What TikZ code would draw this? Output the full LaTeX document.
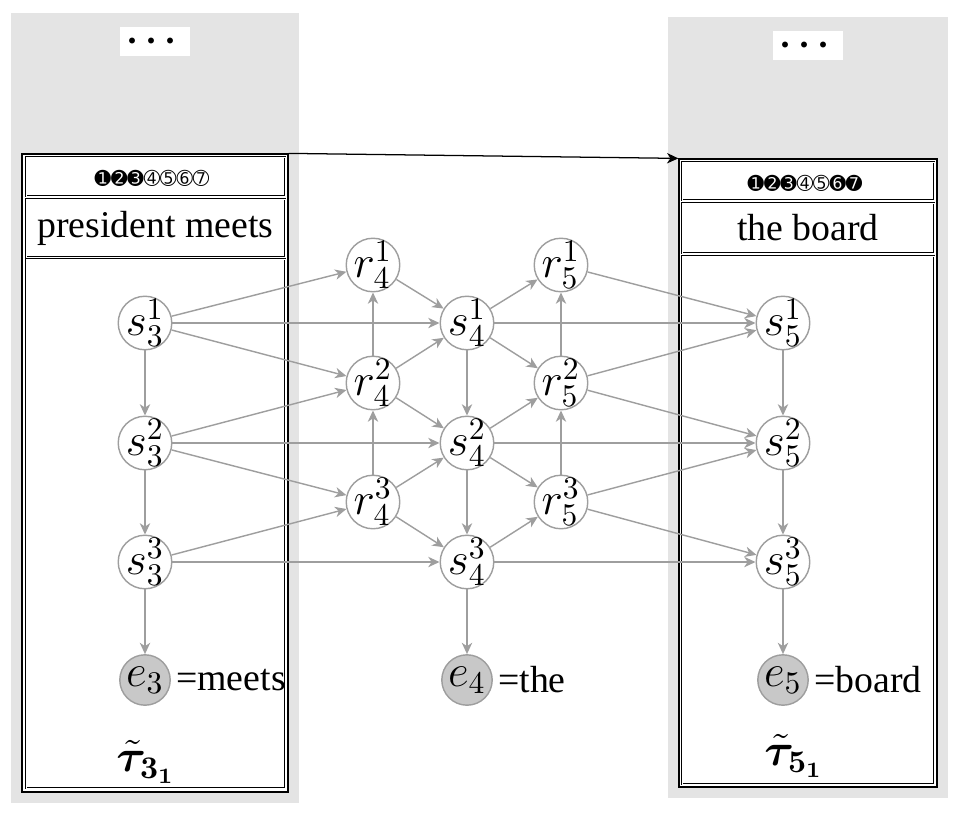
\documentclass[tikz,border=0pt]{standalone}
\usepackage{amsmath,bm}
\usepackage{fontspec}
\setmainfont{Liberation Serif}
\newfontfamily\dingfont{DejaVu Sans}
\usetikzlibrary{arrows.meta}
\definecolor{edgegray}{RGB}{158,158,158}
\definecolor{efill}{RGB}{200,200,200}
\definecolor{panelgray}{RGB}{228,228,228}
\newcommand\pxu{0.3175pt}
\begin{document}
\begin{tikzpicture}[x=0.3175pt,y=-0.3175pt,
  every node/.style={font=\fontsize{12}{14}\selectfont},
  st/.style={circle,draw=edgegray,line width=0.45pt,fill=white,inner sep=-1.4pt,minimum size=17pt,font=\fontsize{14.4}{16}\selectfont},
  ev/.style={circle,draw=edgegray,fill=efill,line width=0.45pt,inner sep=0pt,minimum size=16pt,font=\fontsize{14}{16}\selectfont},
  ar/.style={draw=edgegray,line width=0.45pt,-{Stealth[length=3.6pt,width=3.3pt,inset=1.1pt]}},
  dbox/.style={draw,double,double distance=0.3pt,line width=0.28pt,inner sep=0pt},
  obox/.style={draw,line width=0.4pt,inner sep=0pt},
  dotbox/.style={fill=white,inner sep=0pt,minimum width=70*\pxu,minimum height=29*\pxu},
  digits/.style={font=\dingfont\fontsize{6.2}{7}\selectfont}
]
\useasboundingbox (0,0) rectangle (960,816);
% gray panels
\fill[panelgray] (11,13) rectangle (299,803);
\fill[panelgray] (668,17) rectangle (948,798);
\node[dotbox] (dotsL) at (155,41.5) {$\boldsymbol{\cdots}$};
\node[dotbox] (dotsR) at (808,45.5) {$\boldsymbol{\cdots}$};
% left tree box
\node[obox,fill=white,minimum width=266*\pxu,minimum height=638*\pxu] (treeL) at (155,473) {};
\node[dbox,minimum width=259*\pxu,minimum height=39*\pxu] (hdrL) at (155.5,176.5) {};
\node[digits] (digL) at (152,178) {➊➋➌➃➄➅➆};
\node[dbox,minimum width=259*\pxu,minimum height=58*\pxu] (wordL) at (155.5,228) {president meets};
\node[dbox,minimum width=259*\pxu,minimum height=529*\pxu] (bodyL) at (155.5,523.5) {};
% right tree box
\node[obox,fill=white,minimum width=258*\pxu,minimum height=628*\pxu] (treeR) at (808,473) {};
\node[dbox,minimum width=252*\pxu,minimum height=38*\pxu] (hdrR) at (808,181) {};
\node[digits] (digR) at (805,183) {➊➋➌➃➄➏➐};
\node[dbox,minimum width=252*\pxu,minimum height=50*\pxu] (wordR) at (808,228) {the board};
\node[dbox,minimum width=252*\pxu,minimum height=528*\pxu] (bodyR) at (808,520) {};
\draw[line width=0.4pt,-{Stealth[length=3.6pt,width=3.3pt,inset=1.1pt]}] (treeL.north east) -- (treeR.north west);
% graph nodes
\node[st] (s31) at (145,323) {$s_3^1$};
\node[st] (s32) at (145,443) {$s_3^2$};
\node[st] (s33) at (145,562) {$s_3^3$};
\node[ev] (e3) at (145,680) {$e_3$};
\node[st] (r41) at (373,265) {$r_4^1$};
\node[st] (r42) at (373,383) {$r_4^2$};
\node[st] (r43) at (373,502) {$r_4^3$};
\node[st] (s41) at (467,323) {$s_4^1$};
\node[st] (s42) at (467,443) {$s_4^2$};
\node[st] (s43) at (467,562) {$s_4^3$};
\node[ev] (e4) at (467,680) {$e_4$};
\node[st] (r51) at (561,265) {$r_5^1$};
\node[st] (r52) at (561,383) {$r_5^2$};
\node[st] (r53) at (561,502) {$r_5^3$};
\node[st] (s51) at (783,323) {$s_5^1$};
\node[st] (s52) at (783,443) {$s_5^2$};
\node[st] (s53) at (783,562) {$s_5^3$};
\node[ev] (e5) at (783,680) {$e_5$};
\node[anchor=west,inner sep=1.5pt] (e3l) at (e3.east) {=meets};
\node[anchor=west,inner sep=1.5pt] (e4l) at (e4.east) {=the};
\node[anchor=west,inner sep=1.5pt] (e5l) at (e5.east) {=board};
\node[font=\fontsize{14}{16}\selectfont] (tauL) at (146,762) {$\boldsymbol{\tilde{\tau}_{3_1}}$};
\node[font=\fontsize{14}{16}\selectfont] (tauR) at (794,756) {$\boldsymbol{\tilde{\tau}_{5_1}}$};
% edges
\foreach \a/\b in {s31/s32,s32/s33,s33/e3,
  s31/r41,s31/s41,s31/r42,s32/r42,s32/s42,s32/r43,s33/r43,s33/s43,
  r42/r41,r43/r42,
  r41/s41,r42/s41,r42/s42,r43/s42,r43/s43,
  s41/s42,s42/s43,s43/e4,
  s41/r51,s41/r52,s42/r52,s42/r53,s43/r53,
  r52/r51,r53/r52,
  s41/s51,s42/s52,s43/s53,
  r51/s51,r52/s51,r52/s52,r53/s52,r53/s53,
  s51/s52,s52/s53,s53/e5}
  \draw[ar] (\a) -- (\b);
\end{tikzpicture}
\end{document}
